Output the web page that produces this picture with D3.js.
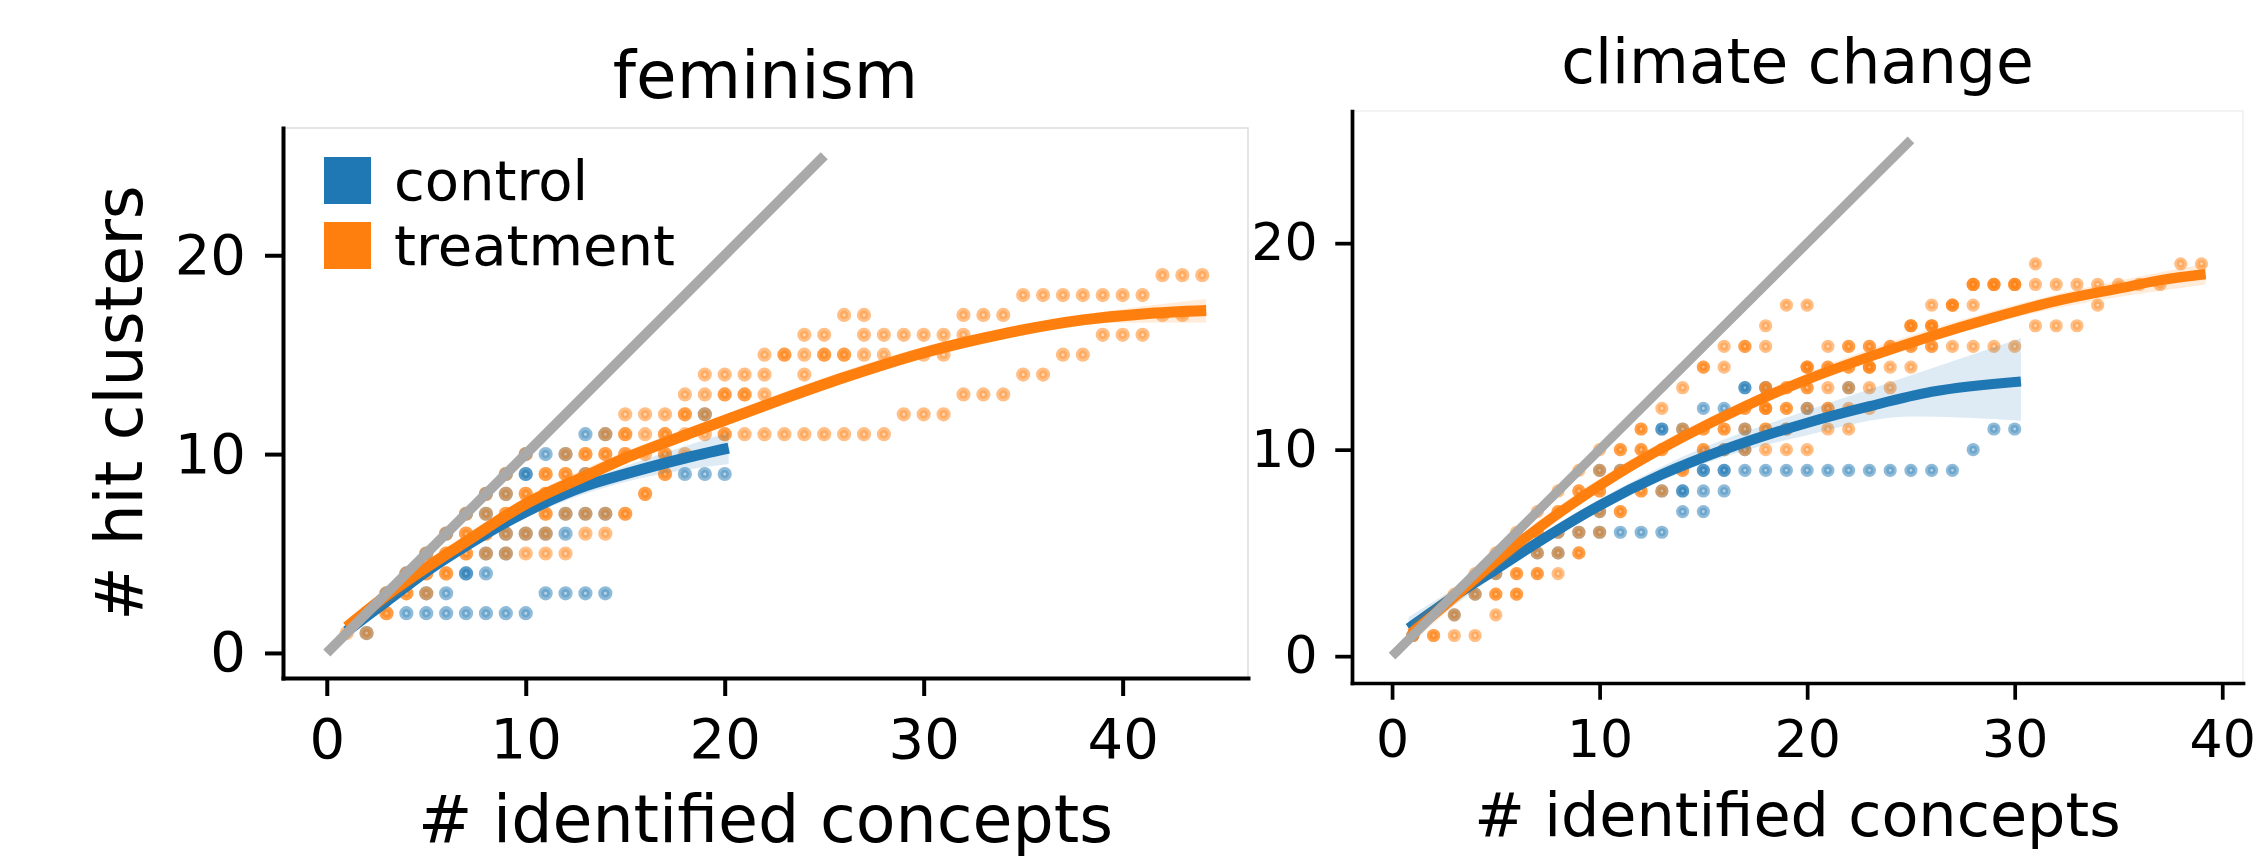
<!DOCTYPE html>
<html lang="en">
<head>
  <meta charset="UTF-8" />
  <title>hit clusters vs identified concepts</title>
  <style>
    body, html { margin: 0; padding: 0; background: white; }
    svg text { font-family: "DejaVu Sans", sans-serif; fill: black; }
  </style>
</head>
<body>
  <div id="canvas"></div>
  <script src="https://cdn.jsdelivr.net/npm/d3@7"></script>
  <script>
    // ---- data ----
    const panelTitles = ["feminism", "climate change"];
    const seriesNames = ["control", "treatment"];
    const xTicks = [0, 10, 20, 30, 40];
    const yTicks = [0, 10, 20];
    const identityEnds = [0, 25];

    // points: [identified concepts, hit clusters, how many overlap]
    const femControl = [
      [2,1,1],[3,3,1],[4,4,1],[5,5,1],[6,6,1],[7,7,1],[8,8,1],[9,9,1],[10,10,1],
      [4,2,1],[5,2,1],[6,2,1],[7,2,1],[8,2,1],[9,2,1],[10,2,1],
      [5,3,1],[6,3,1],[11,3,1],[12,3,1],[13,3,1],[14,3,1],
      [7,4,2],[8,4,1],[8,5,1],[9,5,1],
      [9,6,1],[10,6,1],[11,6,1],[12,6,1],
      [8,7,1],[12,7,1],[13,7,1],[14,7,1],[9,8,1],
      [10,9,2],[13,9,1],[18,9,1],[19,9,1],[20,9,1],
      [11,10,1],[12,10,1],[13,11,1],[14,11,1],[19,12,1]
    ];
    const femTreat = [
      [1,1,1],[2,1,1],[2,2,1],[3,2,2],
      [3,3,1],[4,3,2],[5,3,1],
      [4,4,1],[5,4,2],[6,4,2],
      [5,5,1],[6,5,2],[7,5,2],[8,5,1],[9,5,1],[10,5,1],[11,5,1],[12,5,1],
      [6,6,1],[7,6,2],[8,6,2],[9,6,1],[10,6,1],[11,6,1],[13,6,1],[14,6,1],
      [7,7,1],[8,7,1],[9,7,2],[11,7,2],[12,7,1],[13,7,1],[14,7,1],[15,7,2],
      [8,8,1],[9,8,1],[10,8,2],[11,8,2],[16,8,2],
      [9,9,1],[11,9,2],[12,9,2],[13,9,1],[17,9,2],
      [10,10,1],[12,10,1],[13,10,2],[14,10,2],[15,10,2],[16,10,1],[17,10,2],[18,10,1],
      [14,11,1],[15,11,2],[16,11,1],[17,11,2],[18,11,1],[19,11,1],[20,11,2],[21,11,1],
      [22,11,1],[23,11,1],[24,11,1],[25,11,1],[26,11,1],[27,11,1],[28,11,1],
      [15,12,1],[16,12,1],[17,12,1],[18,12,2],[19,12,1],[29,12,1],[30,12,1],[31,12,1],
      [18,13,1],[19,13,1],[20,13,2],[21,13,2],[22,13,1],[32,13,1],[33,13,1],[34,13,1],
      [19,14,1],[20,14,1],[21,14,1],[22,14,1],[24,14,1],[35,14,1],[36,14,1],
      [22,15,1],[23,15,2],[24,15,1],[25,15,2],[26,15,2],[27,15,1],[28,15,1],[30,15,1],
      [31,15,1],[37,15,1],[38,15,1],
      [24,16,1],[25,16,1],[27,16,1],[28,16,1],[29,16,1],[30,16,1],[31,16,1],[32,16,1],
      [39,16,1],[40,16,1],[41,16,1],
      [26,17,1],[27,17,1],[32,17,1],[33,17,1],[34,17,1],[42,17,1],[43,17,1],
      [35,18,1],[36,18,1],[37,18,1],[38,18,1],[39,18,1],[40,18,1],[41,18,1],
      [42,19,1],[43,19,1],[44,19,1]
    ];
    const climControl = [
      [1,1,1],[3,2,1],[4,3,1],[5,4,1],[7,5,1],[8,5,1],
      [8,6,1],[9,6,1],[10,6,1],[11,6,1],[12,6,1],[13,6,1],
      [10,7,1],[14,7,1],[15,7,1],
      [13,8,1],[14,8,2],[15,8,1],[16,8,1],
      [10,9,1],[11,9,1],[15,9,2],[16,9,2],[17,9,1],[18,9,1],[19,9,1],[20,9,1],[21,9,1],
      [22,9,1],[23,9,1],[24,9,1],[25,9,1],[26,9,1],[27,9,1],
      [16,10,1],[17,10,1],[28,10,1],
      [13,11,2],[14,11,1],[17,11,1],[19,11,1],[29,11,1],[30,11,1],
      [15,12,1],[16,12,1],[20,12,1],
      [17,13,2],[18,13,1],[22,13,1]
    ];
    const climTreat = [
      [1,1,2],[2,1,2],[3,1,1],[4,1,1],[3,2,1],[5,2,1],
      [3,3,1],[4,3,1],[5,3,2],[6,3,2],
      [4,4,1],[5,4,1],[6,4,2],[7,4,2],[8,4,1],
      [5,5,1],[7,5,1],[8,5,1],[9,5,2],
      [6,6,1],[7,6,2],[8,6,1],[9,6,1],[10,6,1],
      [7,7,1],[8,7,2],[10,7,1],[11,7,2],
      [8,8,1],[9,8,2],[10,8,2],[12,8,2],[13,8,1],
      [9,9,1],[10,9,1],[11,9,1],[14,9,2],
      [10,10,1],[11,10,2],[12,10,2],[13,10,2],[15,10,2],[16,10,1],[17,10,1],[18,10,1],
      [19,10,1],[20,10,1],
      [12,11,2],[14,11,1],[15,11,2],[16,11,2],[17,11,1],[18,11,2],[19,11,1],[21,11,1],[22,11,1],
      [13,12,1],[17,12,2],[18,12,3],[19,12,2],[20,12,1],[21,12,2],[22,12,1],[23,12,1],
      [14,13,1],[18,13,2],[19,13,2],[20,13,2],[21,13,1],[22,13,1],[23,13,1],[24,13,1],
      [15,14,2],[16,14,1],[20,14,3],[21,14,2],[22,14,2],[23,14,3],[24,14,1],[25,14,1],
      [16,15,1],[17,15,2],[18,15,1],[21,15,1],[22,15,2],[23,15,2],[24,15,2],[25,15,2],
      [26,15,2],[27,15,1],[28,15,1],[29,15,1],[30,15,1],
      [18,16,1],[25,16,3],[26,16,3],[31,16,1],[32,16,1],[33,16,1],
      [19,17,1],[20,17,1],[26,17,1],[27,17,3],[28,17,1],[34,17,1],
      [28,18,3],[29,18,3],[30,18,3],[31,18,1],[32,18,1],[33,18,1],[34,18,1],[35,18,1],
      [36,18,1],[37,18,1],
      [31,19,1],[38,19,1],[39,19,1]
    ];

    // fitted curves [x, y] and confidence bands [x, low, high]
    const femControlFit = [[1,1.1],[3,2.6],[5,4.1],[7,5.4],[10,7.1],[13,8.4],[15,9.0],[18,9.8],[20.2,10.3]];
    const femControlBand = [[1,0.7,1.5],[5,3.8,4.4],[10,6.8,7.4],[15,8.6,9.4],[18,9.2,10.4],[20.2,9.5,11.1]];
    const femTreatFit = [[1,1.3],[3,2.9],[5,4.3],[7,5.6],[10,7.5],[13,8.9],[15,9.8],[18,10.95],[20,11.7],
      [23,12.8],[26,13.85],[30,15.1],[34,16.05],[38,16.75],[41,17.05],[44.2,17.22]];
    const femTreatBand = [[1,0.9,1.7],[10,7.2,7.8],[20,11.4,12.0],[30,14.8,15.4],[40,16.6,17.3],[44.2,16.6,17.8]];
    const climControlFit = [[0.8,1.35],[3,2.9],[5,4.2],[7,5.5],[10,7.3],[13,8.8],[16,10.0],[20,11.3],
      [23,12.1],[26,12.8],[30.3,13.3]];
    const climControlBand = [[0.8,0.8,1.9],[5,3.9,4.5],[10,7.0,7.6],[15,9.3,10.1],[20,10.7,11.9],
      [25,11.6,13.6],[30.3,11.4,15.4]];
    const climTreatFit = [[0.9,1.1],[2,2.0],[5,4.6],[8,6.9],[11,8.9],[14,10.6],[17,12.1],[20,13.4],
      [23,14.5],[26,15.5],[29,16.4],[32,17.2],[35,17.8],[37,18.2],[39.2,18.5]];
    const climTreatBand = [[0.9,0.6,1.6],[10,8.0,8.6],[20,13.1,13.7],[30,16.4,17.0],[39.2,18.0,19.0]];

    // ---- layout ----
    const W = 2266, H = 859;
    const blue = "#1f77b4", orange = "#ff7f0e", grey = "#a9a9a9";

    const panels = [
      {
        title: panelTitles[0], control: femControl, treat: femTreat,
        cFit: femControlFit, cBand: femControlBand, tFit: femTreatFit, tBand: femTreatBand,
        left: 283, right: 1248, top: 128, bottom: 678,
        xDomain: [-2.2, 46.3], yDomain: [-1.26, 26.4], s: 1, yLabel: true, legend: true, frame: "#dddddd"
      },
      {
        title: panelTitles[1], control: climControl, treat: climTreat,
        cFit: climControlFit, cBand: climControlBand, tFit: climTreatFit, tBand: climTreatBand,
        left: 1352, right: 2243, top: 111, bottom: 683,
        xDomain: [-1.93, 41.0], yDomain: [-1.3, 26.4], s: 0.93, yLabel: false, legend: false, frame: "#f0f0f0"
      }
    ];

    const svg = d3.select("#canvas")
      .append("svg")
      .attr("width", W)
      .attr("height", H);

    function drawDots(g, pts, color, x, y, s) {
      // one circle per observation, so overlapping ones get darker
      const obs = pts.flatMap(p => d3.range(p[2]).map(() => p));
      g.append("g")
        .selectAll("circle")
        .data(obs)
        .enter()
        .append("circle")
        .attr("cx", d => x(d[0]))
        .attr("cy", d => y(d[1]))
        .attr("r", 4.3 * s)
        .style("fill", color)
        .style("fill-opacity", 0.3)
        .style("stroke", color)
        .style("stroke-opacity", 0.5)
        .style("stroke-width", 5.6 * s);
    }

    function drawFit(g, fit, band, color, x, y, s) {
      const area = d3.area()
        .x(d => x(d[0]))
        .y0(d => y(d[1]))
        .y1(d => y(d[2]))
        .curve(d3.curveMonotoneX);
      g.append("path")
        .attr("d", area(band))
        .style("fill", color)
        .style("fill-opacity", 0.15)
        .style("stroke", "none");

      const line = d3.line()
        .x(d => x(d[0]))
        .y(d => y(d[1]))
        .curve(d3.curveMonotoneX);
      g.append("path")
        .attr("d", line(fit))
        .style("fill", "none")
        .style("stroke", color)
        .style("stroke-width", 11 * s);
    }

    function drawPanel(p) {
      const s = p.s;
      const x = d3.scaleLinear().domain(p.xDomain).range([p.left, p.right]);
      const y = d3.scaleLinear().domain(p.yDomain).range([p.bottom, p.top]);
      const g = svg.append("g");

      // faint frame on top and right
      g.append("path")
        .attr("d", "M" + p.left + "," + p.top + "H" + p.right + "V" + p.bottom)
        .style("fill", "none")
        .style("stroke", p.frame)
        .style("stroke-width", 1.5);

      const plot = g.append("g");
      drawDots(plot, p.control, blue, x, y, s);
      drawDots(plot, p.treat, orange, x, y, s);
      drawFit(plot, p.cFit, p.cBand, blue, x, y, s);
      drawFit(plot, p.tFit, p.tBand, orange, x, y, s);

      // y = x reference
      plot.append("line")
        .attr("x1", x(identityEnds[0])).attr("y1", y(identityEnds[0]))
        .attr("x2", x(identityEnds[1])).attr("y2", y(identityEnds[1]))
        .style("stroke", grey)
        .style("stroke-width", 10 * s);

      const tickFont = 56 * s, labelFont = 65 * s;

      const xAxis = d3.axisBottom(x)
        .tickValues(xTicks)
        .tickSize(18 * s)
        .tickSizeOuter(0)
        .tickPadding(80 * s - 18 * s - 0.71 * tickFont);
      const xg = g.append("g")
        .attr("transform", "translate(0," + p.bottom + ")")
        .call(xAxis);

      const yAxis = d3.axisLeft(y)
        .tickValues(yTicks)
        .tickSize(18 * s)
        .tickSizeOuter(0)
        .tickPadding(19 * s);
      const yg = g.append("g")
        .attr("transform", "translate(" + p.left + ",0)")
        .call(yAxis);

      [xg, yg].forEach(ax => {
        ax.attr("font-family", "DejaVu Sans").attr("font-size", tickFont);
        ax.select(".domain")
          .style("stroke", "black")
          .style("stroke-width", 4 * s)
          .style("stroke-linecap", "square");
        ax.selectAll(".tick line")
          .style("stroke", "black")
          .style("stroke-width", 4 * s);
        ax.selectAll(".tick text").style("fill", "black");
      });

      // titles and labels
      g.append("text")
        .attr("x", (p.left + p.right) / 2)
        .attr("y", p.top - 30 * s)
        .attr("text-anchor", "middle")
        .style("font-size", 66 * s + "px")
        .text(p.title);

      g.append("text")
        .attr("x", (p.left + p.right) / 2)
        .attr("y", p.bottom + 164 * s)
        .attr("text-anchor", "middle")
        .style("font-size", labelFont + "px")
        .text("# identified concepts");

      if (p.yLabel) {
        g.append("text")
          .attr("transform", "translate(" + (p.left - 141) + "," + (p.top + p.bottom) / 2 + ") rotate(-90)")
          .attr("text-anchor", "middle")
          .style("font-size", labelFont + "px")
          .text("# hit clusters");
      }

      if (p.legend) {
        const legend = g.append("g")
          .attr("transform", "translate(" + (p.left + 41) + "," + (p.top + 29) + ")");
        legend.selectAll("rect")
          .data(seriesNames)
          .enter()
          .append("rect")
          .attr("x", 0)
          .attr("y", (d, i) => i * 65)
          .attr("width", 47)
          .attr("height", 47)
          .style("fill", (d, i) => i === 0 ? blue : orange);
        legend.selectAll("text")
          .data(seriesNames)
          .enter()
          .append("text")
          .attr("x", 70)
          .attr("y", (d, i) => 43 + i * 65)
          .style("font-size", "56px")
          .text(d => d);
      }
    }

    panels.forEach(drawPanel);
  </script>
</body>
</html>
